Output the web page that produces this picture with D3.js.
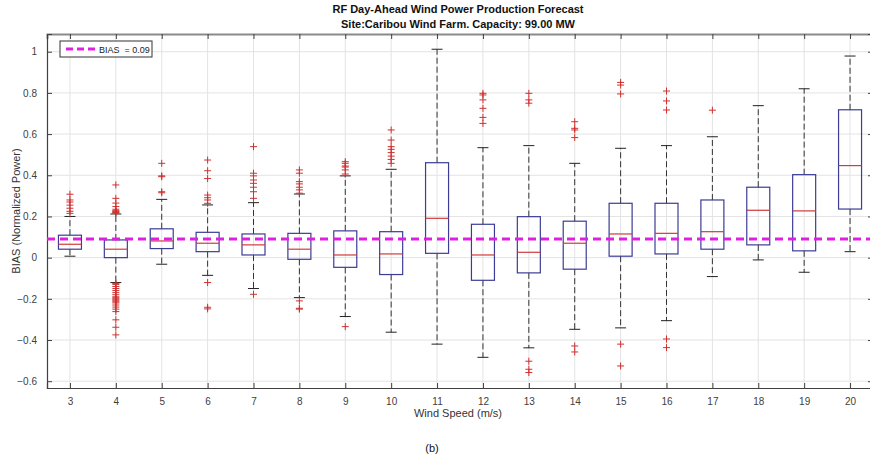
<!DOCTYPE html>
<html><head><meta charset="utf-8">
<script src="https://cdn.jsdelivr.net/npm/d3@7"></script>
<style>body{margin:0;background:#fff}svg{display:block}text{font-family:"Liberation Sans",Arial,sans-serif}</style>
</head><body><svg id="c" width="870" height="461"></svg>
<script>
const categories = [3,4,5,6,7,8,9,10,11,12,13,14,15,16,17,18,19,20];
const q1 =        [0.041,0.000,0.044,0.029,0.013,-0.008,-0.047,-0.082,0.021,-0.110,-0.074,-0.056,0.007,0.018,0.041,0.062,0.033,0.236];
const medians =   [0.065,0.041,0.081,0.070,0.062,0.041,0.013,0.018,0.191,0.013,0.026,0.070,0.115,0.118,0.126,0.230,0.227,0.447];
const q3 =        [0.109,0.086,0.140,0.123,0.115,0.118,0.130,0.126,0.461,0.162,0.199,0.177,0.264,0.264,0.280,0.342,0.403,0.718];
const whiskLow =  [0.007,-0.121,-0.032,-0.086,-0.150,-0.194,-0.286,-0.362,-0.420,-0.484,-0.438,-0.348,-0.341,-0.306,-0.092,-0.011,-0.071,0.029];
const whiskHigh = [0.200,0.212,0.283,0.256,0.267,0.309,0.397,0.429,1.012,0.534,0.544,0.458,0.531,0.544,0.587,0.738,0.820,0.979];
const outliers = [
  [0.308,0.280,0.270,0.255,0.240,0.225,0.215],
  [0.353,0.288,0.265,0.248,0.235,0.228,0.225,0.222,0.219,0.216,
   -0.125,-0.130,-0.140,-0.150,-0.160,-0.170,-0.180,-0.190,-0.195,-0.200,-0.205,-0.210,-0.215,-0.220,-0.230,-0.240,-0.250,-0.262,-0.302,-0.338,-0.375],
  [0.458,0.397,0.393,0.320,0.315],
  [0.474,0.422,0.384,0.304,0.291,0.280,0.264,-0.121,-0.241,-0.249],
  [0.539,0.410,0.397,0.377,0.361,0.342,0.320,0.288,-0.178],
  [0.426,0.410,0.369,0.358,0.342,0.329,0.313,-0.210,-0.246,-0.250],
  [0.466,0.458,0.445,0.440,0.426,0.406,-0.335],
  [0.620,0.571,0.539,0.526,0.510,0.493,0.477,0.458],
  [],
  [0.798,0.790,0.766,0.725,0.681,0.652],
  [0.798,0.766,0.750,-0.503,-0.542,-0.558],
  [0.660,0.628,0.620,0.583,-0.429,-0.458],
  [0.851,0.838,0.795,-0.420,-0.526],
  [0.809,0.761,0.717,-0.395,-0.437],
  [0.716],
  [],
  [],
  []
];
const yTicks = [-0.6,-0.4,-0.2,0,0.2,0.4,0.6,0.8,1];
const biasValue = 0.09;
const titleLines = ["RF Day-Ahead Wind Power Production Forecast","Site:Caribou Wind Farm. Capacity: 99.00 MW"];
const xLabel = "Wind Speed (m/s)";
const yLabel = "BIAS (Normalized Power)";
const legendLabel = "BIAS  = 0.09";
const caption = "(b)";

const svg = d3.select("#c");
const L = 47, R = 873, T = 34, B = 388;
const x = d3.scaleLinear().domain([2.5, 20.5]).range([L, R]);
const y = d3.scaleLinear().domain([-0.633, 1.086]).range([B, T]);
const axisCol = "#404040";
const bw = 23, cap = 11;

// grid
const g = svg.append("g");
g.selectAll(".gx").data(categories).join("line")
  .attr("x1", d => x(d)).attr("x2", d => x(d)).attr("y1", T).attr("y2", B)
  .attr("stroke", "#e3e3e3").attr("stroke-width", 1);
g.selectAll(".gy").data(yTicks).join("line")
  .attr("x1", L).attr("x2", R).attr("y1", d => y(d)).attr("y2", d => y(d))
  .attr("stroke", "#e3e3e3").attr("stroke-width", 1);

// axes
const xAxis = d3.axisBottom(x).tickValues(categories).tickSize(-5).tickPadding(10).tickFormat(d3.format("d"));
const gx = svg.append("g").attr("transform", `translate(0,${B})`).call(xAxis);
const xTop = d3.axisTop(x).tickValues(categories).tickSize(-5).tickFormat("");
const gxt = svg.append("g").attr("transform", `translate(0,${T})`).call(xTop);
const yAxis = d3.axisLeft(y).tickValues(yTicks).tickSize(-5).tickPadding(10).tickFormat(d => d3.format("")(+d.toFixed(1)).replace("-", "-"));
const gy = svg.append("g").attr("transform", `translate(${L},0)`).call(yAxis);
const yRight = d3.axisRight(y).tickValues(yTicks).tickSize(-5).tickFormat("");
const gyr = svg.append("g").attr("transform", `translate(${R},0)`).call(yRight);
[gx, gxt, gy, gyr].forEach(a => {
  a.select(".domain").attr("stroke", axisCol).attr("stroke-width", 1.2);
  a.selectAll(".tick line").attr("stroke", axisCol);
  a.selectAll(".tick text").attr("fill", "#404040").attr("font-size", 10).attr("font-family", "Liberation Sans, Arial, sans-serif");
});
gxt.select(".domain").attr("stroke", "#8a8a8a").attr("stroke-width", 2);

// boxes
const bx = svg.append("g");
categories.forEach((c, i) => {
  const cx = x(c);
  const gg = bx.append("g");
  gg.append("line").attr("x1", cx).attr("x2", cx).attr("y1", y(q3[i])).attr("y2", y(whiskHigh[i]))
    .attr("stroke", "#333").attr("stroke-dasharray", "6,3").attr("stroke-width", 1);
  gg.append("line").attr("x1", cx).attr("x2", cx).attr("y1", y(q1[i])).attr("y2", y(whiskLow[i]))
    .attr("stroke", "#333").attr("stroke-dasharray", "6,3").attr("stroke-width", 1);
  [whiskHigh[i], whiskLow[i]].forEach(v => {
    gg.append("line").attr("x1", cx - cap / 2).attr("x2", cx + cap / 2).attr("y1", y(v)).attr("y2", y(v))
      .attr("stroke", "#222").attr("stroke-width", 1);
  });
  gg.append("rect").attr("x", cx - bw / 2).attr("width", bw)
    .attr("y", y(q3[i])).attr("height", y(q1[i]) - y(q3[i]))
    .attr("fill", "none").attr("stroke", "#3c3c96").attr("stroke-width", 1.2);
  gg.append("line").attr("x1", cx - bw / 2).attr("x2", cx + bw / 2).attr("y1", y(medians[i])).attr("y2", y(medians[i]))
    .attr("stroke", "#d03a3a").attr("stroke-width", 1.2);
  gg.selectAll("path.o").data(outliers[i]).join("path")
    .attr("d", v => `M${cx - 3.5},${y(v)}H${cx + 3.5}M${cx},${y(v) - 3.5}V${y(v) + 3.5}`)
    .attr("stroke", "#d03030").attr("stroke-width", 1).attr("fill", "none");
});

// bias line
svg.append("line").attr("x1", L).attr("x2", R).attr("y1", y(biasValue)).attr("y2", y(biasValue))
  .attr("stroke", "#e020e0").attr("stroke-width", 3).attr("stroke-dasharray", "8,5");

// legend
const lg = svg.append("g");
lg.append("rect").attr("x", 60).attr("y", 41).attr("width", 92).attr("height", 16)
  .attr("fill", "#fff").attr("stroke", "#333").attr("stroke-width", 1);
lg.append("line").attr("x1", 66).attr("x2", 97).attr("y1", 49).attr("y2", 49)
  .attr("stroke", "#e020e0").attr("stroke-width", 3).attr("stroke-dasharray", "7,4");
lg.append("text").attr("x", 99).attr("y", 52.5).attr("font-size", 9).attr("fill", "#222").attr("xml:space","preserve").text(legendLabel);

// titles
titleLines.forEach((t, i) => {
  svg.append("text").attr("x", 458).attr("y", 13 + i * 15).attr("text-anchor", "middle")
    .attr("font-size", 11).attr("font-weight", "bold").attr("fill", "#111").text(t);
});
svg.append("text").attr("x", 458).attr("y", 417).attr("text-anchor", "middle")
  .attr("font-size", 11).attr("fill", "#333").text(xLabel);
svg.append("text").attr("transform", `translate(20,211) rotate(-90)`).attr("text-anchor", "middle")
  .attr("font-size", 11).attr("fill", "#333").text(yLabel);
svg.append("text").attr("x", 432).attr("y", 452).attr("text-anchor", "middle")
  .attr("font-size", 11).attr("fill", "#111").text(caption);
</script></body></html>
